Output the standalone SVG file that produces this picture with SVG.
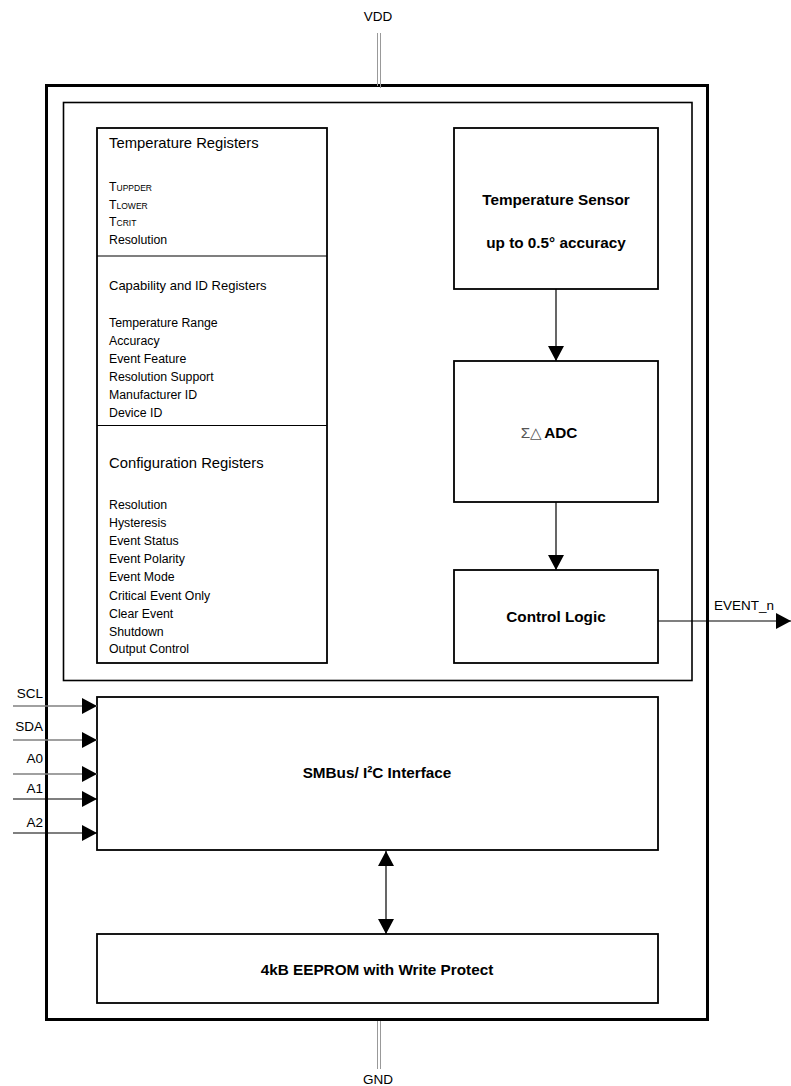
<svg xmlns="http://www.w3.org/2000/svg" width="791" height="1086" viewBox="0 0 791 1086">
<style>
text{font-family:"Liberation Sans",Arial,sans-serif;fill:#000}
.box{fill:#fff;stroke:#000;stroke-width:1.8}
.it{font-size:12.3px}
.sub{font-size:8.5px}
.pin{font-size:13.5px}
.c{text-anchor:middle}
.lbl{font-size:15.3px;font-weight:bold;text-anchor:middle}
.ln{stroke:#000;stroke-width:1.2;fill:none}
.gl{stroke:#808080;stroke-width:1.4;fill:none}
.rail{stroke:#999;stroke-width:1;fill:none}
</style>
<defs>
<marker id="ah" markerWidth="16" markerHeight="16" refX="15" refY="8" orient="auto" markerUnits="userSpaceOnUse">
<path d="M0,0 L15,8 L0,16 Z" fill="#000"/>
</marker>
<marker id="ahs" markerWidth="16" markerHeight="16" refX="15" refY="8" orient="auto-start-reverse" markerUnits="userSpaceOnUse">
<path d="M0,0 L15,8 L0,16 Z" fill="#000"/>
</marker>
</defs>
<rect width="791" height="1086" fill="#fff"/>

<g id="package">
<rect x="46.5" y="85.5" width="661" height="934" fill="none" stroke="#000" stroke-width="3"/>
<rect x="63.5" y="102.5" width="628.5" height="578" fill="none" stroke="#000" stroke-width="1.6"/>
</g>

<g id="vdd">
<line class="rail" x1="377.5" y1="33" x2="377.5" y2="86"/>
<line class="rail" x1="380.5" y1="33" x2="380.5" y2="88" stroke="#bbb"/>
<text x="378" y="21" class="pin c">VDD</text>
</g>
<g id="gnd">
<line class="rail" x1="377.5" y1="1021" x2="377.5" y2="1069"/>
<line class="rail" x1="380.5" y1="1021" x2="380.5" y2="1069" stroke="#bbb"/>
<text x="378" y="1084" class="pin c">GND</text>
</g>

<g id="registers">
<rect class="box" x="97" y="128" width="230" height="535"/>
<line class="ln" x1="97" y1="256" x2="327" y2="256" stroke-width="1.8"/>
<line class="ln" x1="97" y1="425.5" x2="327" y2="425.5" stroke-width="1.8"/>
<text x="109" y="148" font-size="14.8px">Temperature Registers</text>
<text x="109" y="191" class="it">T<tspan class="sub">UPPDER</tspan></text>
<text x="109" y="208.5" class="it">T<tspan class="sub">LOWER</tspan></text>
<text x="109" y="226" class="it">T<tspan class="sub">CRIT</tspan></text>
<text x="109" y="244" class="it">Resolution</text>

<text x="109" y="290" font-size="13px">Capability and ID Registers</text>
<text x="109" y="327" class="it">Temperature Range</text>
<text x="109" y="345" class="it">Accuracy</text>
<text x="109" y="363" class="it">Event Feature</text>
<text x="109" y="381" class="it">Resolution Support</text>
<text x="109" y="399" class="it">Manufacturer ID</text>
<text x="109" y="417" class="it">Device ID</text>

<text x="109" y="468" font-size="14.8px">Configuration Registers</text>
<text x="109" y="509" class="it">Resolution</text>
<text x="109" y="527" class="it">Hysteresis</text>
<text x="109" y="545" class="it">Event Status</text>
<text x="109" y="563" class="it">Event Polarity</text>
<text x="109" y="581" class="it">Event Mode</text>
<text x="109" y="600" class="it">Critical Event Only</text>
<text x="109" y="618" class="it">Clear Event</text>
<text x="109" y="636" class="it">Shutdown</text>
<text x="109" y="653" class="it">Output Control</text>
</g>

<g id="sensor">
<rect class="box" x="454" y="128" width="204" height="161"/>
<text x="556" y="205" class="lbl">Temperature Sensor</text>
<text x="556" y="248" class="lbl" font-size="15px">up to 0.5° accuracy</text>
</g>

<g id="adc">
<rect class="box" x="454" y="361" width="204" height="141"/>
<text x="549" y="438" class="lbl"><tspan fill="#555" font-weight="normal">Σ△</tspan><tspan dx="2">ADC</tspan></text>
</g>

<g id="control">
<rect class="box" x="454" y="570" width="204" height="93"/>
<text x="556" y="622" class="lbl">Control Logic</text>
</g>

<g id="smbus">
<rect class="box" x="97" y="697" width="561" height="153"/>
<text x="377" y="778" class="lbl" font-size="16.3px">SMBus/ I²C Interface</text>
</g>

<g id="eeprom">
<rect class="box" x="97" y="934" width="561" height="69"/>
<text x="377" y="975" class="lbl" font-size="16.3px">4kB EEPROM with Write Protect</text>
</g>

<g id="pins">
<text x="43" y="698" class="pin" text-anchor="end">SCL</text>
<text x="43" y="731" class="pin" text-anchor="end">SDA</text>
<text x="43" y="763" class="pin" text-anchor="end">A0</text>
<text x="43" y="793" class="pin" text-anchor="end">A1</text>
<text x="43" y="827" class="pin" text-anchor="end">A2</text>
<text x="714" y="610" class="pin">EVENT_n</text>
</g>

<g id="connectors">
<line class="ln" x1="556" y1="289" x2="556" y2="361" marker-end="url(#ah)"/>
<line class="ln" x1="556" y1="502" x2="556" y2="570" marker-end="url(#ah)"/>
<line class="ln" x1="658" y1="621" x2="791" y2="621" marker-end="url(#ah)"/>
<line class="ln" x1="386" y1="851" x2="386" y2="934" marker-start="url(#ahs)" marker-end="url(#ah)"/>
<line class="gl" x1="13" y1="706" x2="97" y2="706" marker-end="url(#ah)"/>
<line class="gl" x1="13" y1="740" x2="97" y2="740" marker-end="url(#ah)"/>
<line class="gl" x1="13" y1="774" x2="97" y2="774" marker-end="url(#ah)"/>
<line class="ln" x1="13" y1="799" x2="97" y2="799" marker-end="url(#ah)"/>
<line class="ln" x1="13" y1="833" x2="97" y2="833" marker-end="url(#ah)"/>
</g>
</svg>
